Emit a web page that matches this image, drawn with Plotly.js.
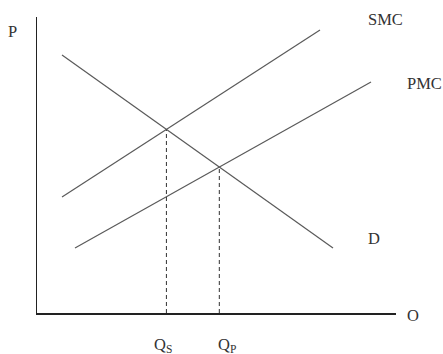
<!DOCTYPE html>
<html>
<head>
<meta charset="utf-8">
<script src="https://cdn.plot.ly/plotly-3.0.1.min.js"></script>
<style>
  html, body { margin: 0; padding: 0; background: #fff; }
  #chart { width: 443px; height: 354px; }
</style>
</head>
<body>
<div id="chart"></div>
<script>
// curve end points, in chart units (x = quantity, y = price)
const demandX = [25, 296];
const demandY = [258, 65];
const smcX = [25, 283];
const smcY = [116, 283];
const pmcX = [38, 334];
const pmcY = [65, 231];

const labelText = ["P", "O", "SMC", "PMC", "D", "Q<sub>S</sub>", "Q<sub>P</sub>"];
const labelX = [-25, 376, 348, 388, 337, 126, 190];
const labelY = [281, -2, 293, 230, 75, -32, -32];

const xRange = [0, 359];
const yRange = [0, 296];

function lineCoef(xs, ys) {
  const m = (ys[1] - ys[0]) / (xs[1] - xs[0]);
  return { m, b: ys[0] - m * xs[0] };
}

function intersect(a, b) {
  const x = (b.b - a.b) / (a.m - b.m);
  return { x, y: a.m * x + a.b };
}

const d = lineCoef(demandX, demandY);
const social = intersect(d, lineCoef(smcX, smcY));
const privat = intersect(d, lineCoef(pmcX, pmcY));

const curveStyle = { color: "#5a5a5a", width: 1.2 };
const dashStyle = { color: "#444", width: 1.1, dash: "4px,3px" };

const traces = [
  { x: demandX, y: demandY, mode: "lines", line: curveStyle },
  { x: smcX, y: smcY, mode: "lines", line: curveStyle },
  { x: pmcX, y: pmcY, mode: "lines", line: curveStyle },
  { x: [social.x, social.x], y: [0, social.y], mode: "lines", line: dashStyle },
  { x: [privat.x, privat.x], y: [0, privat.y], mode: "lines", line: dashStyle },
];

// labels sit partly outside the axes, so place them in paper units
const annotations = labelText.map((text, i) => ({
  x: (labelX[i] - xRange[0]) / (xRange[1] - xRange[0]),
  y: (labelY[i] - yRange[0]) / (yRange[1] - yRange[0]),
  xref: "paper",
  yref: "paper",
  xanchor: "center",
  yanchor: "middle",
  text,
  showarrow: false,
  font: { family: "Liberation Serif, Times New Roman, serif", size: 16.5, color: "#333" },
}));

const layout = {
  width: 443,
  height: 354,
  margin: { l: 37, r: 47, t: 17, b: 41 },
  showlegend: false,
  paper_bgcolor: "#fff",
  plot_bgcolor: "#fff",
  xaxis: {
    range: xRange,
    showline: true,
    linecolor: "#222",
    linewidth: 1.5,
    showgrid: false,
    zeroline: false,
    showticklabels: false,
    ticks: "",
    fixedrange: true,
  },
  yaxis: {
    range: yRange,
    showline: true,
    linecolor: "#222",
    linewidth: 1.5,
    showgrid: false,
    zeroline: false,
    showticklabels: false,
    ticks: "",
    fixedrange: true,
  },
  annotations,
};

Plotly.newPlot("chart", traces, layout, { staticPlot: true });
</script>
</body>
</html>
